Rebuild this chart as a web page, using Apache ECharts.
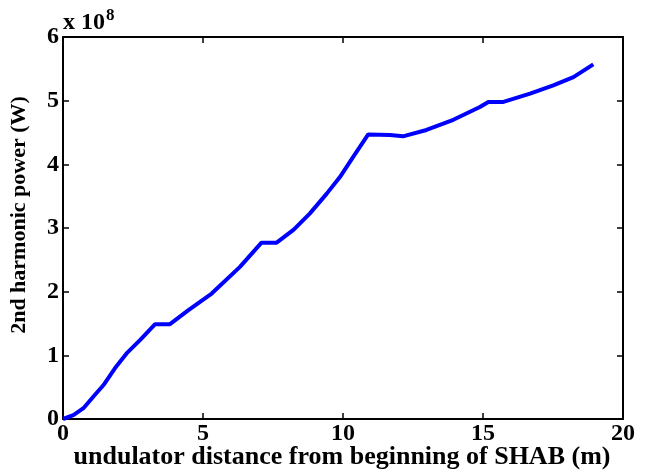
<!DOCTYPE html>
<html>
<head>
<meta charset="utf-8">
<script src="https://cdn.jsdelivr.net/npm/echarts@6/dist/echarts.min.js"></script>
<style>html,body{margin:0;padding:0;background:#fff}#c{width:649px;height:471px}</style>
</head>
<body>
<div id="c"></div>
<script>
// undulator distance (m)
const distance = [0, 0.37, 0.73, 1.08, 1.44, 1.86, 2.27, 2.75, 3.29, 3.82, 4.48, 5.31, 6.32, 7.09, 7.63, 8.23, 8.82, 9.42, 9.89, 10.37, 10.9, 11.68, 12.14, 12.98, 13.94, 14.89, 15.19, 15.73, 16.68, 17.51, 18.23, 18.94];
// 2nd harmonic power, in units of 1e8 W
const power = [0, 0.06, 0.17, 0.35, 0.53, 0.80, 1.03, 1.24, 1.49, 1.49, 1.71, 1.97, 2.39, 2.77, 2.77, 2.97, 3.23, 3.54, 3.80, 4.12, 4.47, 4.46, 4.44, 4.54, 4.70, 4.90, 4.98, 4.98, 5.11, 5.24, 5.37, 5.57];
const xTicks = [0, 5, 10, 15, 20];
const yTicks = [0, 1, 2, 3, 4, 5, 6];
const xTitle = 'undulator distance from beginning of SHAB (m)';
const yTitle = '2nd harmonic power (W)';
const scaleExp = '8';

const chart = echarts.init(document.getElementById('c'), null, {renderer: 'canvas'});
const font = 'Liberation Serif';
const axLine = {show: true, onZero: false, lineStyle: {color: '#000', width: 2}};
const tick = {show: true, inside: true, length: 6, lineStyle: {color: '#000', width: 1.5}};
chart.setOption({
  animation: false,
  backgroundColor: '#fff',
  grid: {left: 63, top: 37, width: 560, height: 382, containLabel: false, outerBoundsMode: 'none'},
  xAxis: [{
    type: 'value', min: 0, max: 20, interval: 5, position: 'bottom',
    axisLine: axLine, axisTick: tick, splitLine: {show: false},
    axisLabel: {fontFamily: font, fontWeight: 'bold', fontSize: 24, color: '#000', margin: 3,
      formatter: v => xTicks.includes(v) ? String(v) : ''}
  }, {
    type: 'value', min: 0, max: 20, interval: 5, position: 'top',
    axisLine: axLine, axisTick: tick, axisLabel: {show: false}, splitLine: {show: false}
  }],
  yAxis: [{
    type: 'value', min: 0, max: 6, interval: 1, position: 'left',
    axisLine: axLine, axisTick: tick, splitLine: {show: false},
    axisLabel: {fontFamily: font, fontWeight: 'bold', fontSize: 24, color: '#000', margin: 4,
      formatter: v => yTicks.includes(v) ? String(v) : ''},
    name: yTitle, nameLocation: 'middle', nameGap: 33,
    nameTextStyle: {fontFamily: font, fontWeight: 'bold', fontSize: 22, color: '#000', padding: [0, 0, 0, 26]}
  }, {
    type: 'value', min: 0, max: 6, interval: 1, position: 'right',
    axisLine: axLine, axisTick: tick, axisLabel: {show: false}, splitLine: {show: false}
  }],
  graphic: [{
    type: 'text', left: 63, top: 7,
    style: {
      text: '{a|x 10}{b|' + scaleExp + '}',
      rich: {
        a: {fontFamily: font, fontWeight: 'bold', fontSize: 24, fill: '#000', verticalAlign: 'bottom'},
        b: {fontFamily: font, fontWeight: 'bold', fontSize: 17, fill: '#000', verticalAlign: 'top', padding: [0, 0, 11, 1]}
      }
    }
  }, {
    type: 'text', x: 342, y: 457,
    style: {
      text: xTitle, align: 'center', verticalAlign: 'middle',
      fontFamily: font, fontWeight: 'bold', fontSize: 26, fill: '#000'
    }
  }],
  series: [{
    type: 'line', xAxisIndex: 0, yAxisIndex: 0,
    data: distance.map((d, i) => [d, power[i]]),
    showSymbol: false, symbol: 'none',
    lineStyle: {color: '#0000ff', width: 4},
    silent: true
  }]
});
</script>
</body>
</html>
